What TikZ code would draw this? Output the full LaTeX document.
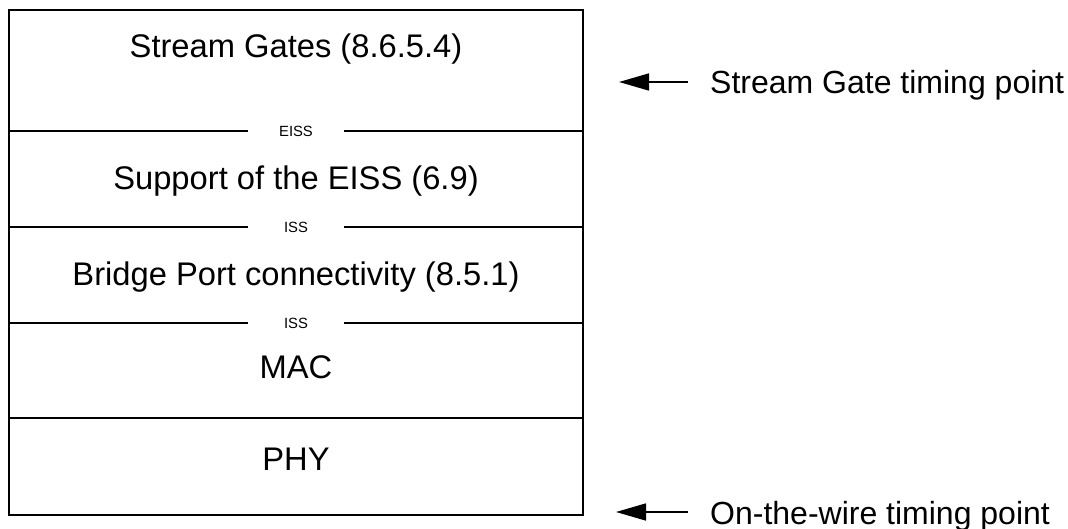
\documentclass[tikz,border=0pt]{standalone}
\usepackage{fontspec}
\setmainfont{Liberation Sans}
\usetikzlibrary{arrows.meta}
\begin{document}
\begin{tikzpicture}[x=1pt,y=-1pt,every node/.style={inner sep=0pt},
  big/.style={font=\fontsize{32.7}{38}\selectfont,anchor=base},
  side/.style={font=\fontsize{32}{38}\selectfont,anchor=base west},
  small/.style={font=\fontsize{14.8}{17}\selectfont,minimum width=96pt},
  layer/.style={line width=2pt},
  pointer/.style={line width=1.6pt,-{Triangle[length=30pt,width=17pt]}}]
  \useasboundingbox (0,0) rectangle (1068,529);

  % Caja exterior de la pila
  \coordinate (tl) at (9,10);
  \coordinate (br) at (583,515);
  \draw[layer] (tl) rectangle (br);

  % Capas de la pila
  \node[big] (gates) at (296,58) {Stream Gates (8.6.5.4)};
  \node[big] (support) at (296,190) {Support of the EISS (6.9)};
  \node[big] (bridge) at (296,286) {Bridge Port connectivity (8.5.1)};
  \node[big] (mac) at (296,378) {MAC};
  \node[big] (phy) at (296,470) {PHY};

  % Interfaces de servicio entre capas
  \node[small] (s1) at (296,131) {EISS};
  \node[small] (s2) at (296,227) {ISS};
  \node[small] (s3) at (296,323) {ISS};
  \coordinate (m) at (296,418);

  \foreach \s in {s1,s2,s3} {
    \draw[layer] (tl |- \s) -- (\s.west);
    \draw[layer] (\s.east) -- (br |- \s);
  }
  \draw[layer] (tl |- m) -- (br |- m);

  % Puntos de temporizacion
  \node[side] (tgate) at (710,94) {Stream Gate timing point};
  \node[side] (twire) at (710,524) {On-the-wire timing point};
  \coordinate (g1) at (688,82);
  \coordinate (g2) at (619,82);
  \coordinate (w1) at (688,512);
  \coordinate (w2) at (616,512);
  \draw[pointer] (g1) -- (g2);
  \draw[pointer] (w1) -- (w2);
\end{tikzpicture}
\end{document}
